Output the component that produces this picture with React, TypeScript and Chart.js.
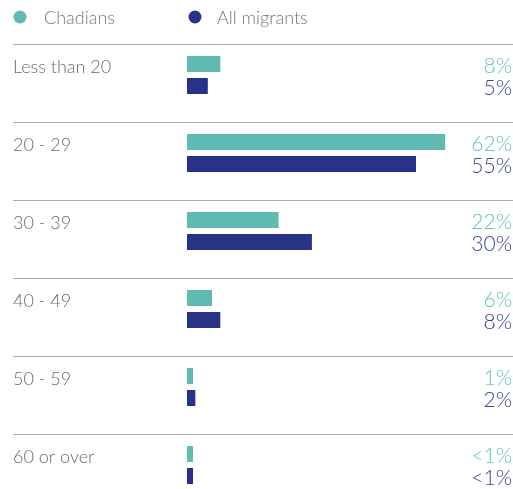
import React, { useEffect, useRef } from "react";
import { Chart, registerables } from "chart.js";

Chart.register(...registerables);

const categories = ["Less than 20", "20 - 29", "30 - 39", "40 - 49", "50 - 59", "60 or over"];
const seriesNames = ["Chadians", "All migrants"];
const chadians = [8, 62, 22, 6, 1, 0.5];
const migrants = [5, 55, 30, 8, 2, 0.5];
const chadiansLabels = ["8%", "62%", "22%", "6%", "1%", "<1%"];
const migrantsLabels = ["5%", "55%", "30%", "8%", "2%", "<1%"];

const TEAL = "#5fbab1";
const NAVY = "#283286";
const TEAL_TEXT = "#6cc4b9";
const NAVY_TEXT = "#3f4599";
const FONT = "Lato, 'Open Sans', sans-serif";

const AREA_TOP = 36;
const BAND = 78;

const overlayPlugin = {
  id: "overlay",
  afterLayout(chart: any) {
    const y = chart.scales.y;
    const h = BAND * categories.length;
    y.top = AREA_TOP;
    y.bottom = AREA_TOP + h;
    y.height = h;
    chart.chartArea.top = AREA_TOP;
    chart.chartArea.bottom = AREA_TOP + h;
    chart.chartArea.height = h;
    y.configure();
  },
  beforeDatasetsDraw(chart: any) {
    const ctx = chart.ctx;
    const y = chart.scales.y;
    ctx.save();
    ctx.strokeStyle = "#ababab";
    ctx.lineWidth = 1.2;
    categories.forEach((_, i) => {
      const py = Math.round(y.getPixelForValue(i) - 31) + 0.5;
      ctx.beginPath();
      ctx.moveTo(13, py);
      ctx.lineTo(chart.width, py);
      ctx.stroke();
    });
    ctx.restore();
  },
  afterDatasetsDraw(chart: any) {
    const ctx = chart.ctx;
    ctx.save();
    ctx.font = `300 21px ${FONT}`;
    ctx.textAlign = "right";
    ctx.textBaseline = "alphabetic";
    const sets = [
      { labels: chadiansLabels, color: TEAL_TEXT },
      { labels: migrantsLabels, color: NAVY_TEXT },
    ];
    sets.forEach((s, di) => {
      const meta = chart.getDatasetMeta(di);
      ctx.fillStyle = s.color;
      meta.data.forEach((bar: any, i: number) => {
        ctx.fillText(s.labels[i], chart.width - 1, bar.y + 9);
      });
    });
    // legend
    ctx.textAlign = "left";
    ctx.textBaseline = "middle";
    ctx.font = `300 18px ${FONT}`;
    const items = [
      { x: 20, tx: 44, color: TEAL, name: seriesNames[0] },
      { x: 195, tx: 217, color: NAVY, name: seriesNames[1] },
    ];
    items.forEach((it) => {
      ctx.fillStyle = it.color;
      ctx.beginPath();
      ctx.arc(it.x, 17, 6.5, 0, Math.PI * 2);
      ctx.fill();
      ctx.fillStyle = "#777777";
      ctx.fillText(it.name, it.tx, 18);
    });
    ctx.restore();
  },
};

export default function App() {
  const ref = useRef<HTMLCanvasElement | null>(null);
  useEffect(() => {
    if (!ref.current) return;
    const chart = new Chart(ref.current, {
      type: "bar",
      data: {
        labels: categories,
        datasets: [
          { label: seriesNames[0], data: chadians, backgroundColor: TEAL },
          { label: seriesNames[1], data: migrants, backgroundColor: NAVY },
        ],
      },
      options: {
        indexAxis: "y",
        animation: false,
        responsive: false,
        maintainAspectRatio: false,
        layout: { padding: { left: 13, top: AREA_TOP, right: 0, bottom: 0 } },
        datasets: {
          bar: {
            categoryPercentage: 44 / 78,
            barPercentage: 16 / 22,
            minBarLength: 6,
            borderWidth: 0,
          },
        },
        plugins: { legend: { display: false }, tooltip: { enabled: false } },
        scales: {
          x: { display: false, min: 0, max: 78.3 },
          y: {
            type: "category",
            position: "left",
            grid: { display: false, drawTicks: false },
            border: { display: false },
            ticks: {
              crossAlign: "far",
              labelOffset: -8,
              padding: 0,
              autoSkip: false,
              color: "#6b6b6b",
              font: { family: FONT, size: 18, weight: "300" as any },
            },
            afterFit(scale: any) {
              scale.width = 174;
            },
          },
        },
      } as any,
      plugins: [overlayPlugin],
    });
    return () => chart.destroy();
  }, []);
  return (
    <div style={{ position: "absolute", left: 0, top: 0, width: 513, height: 489 }}>
      <canvas ref={ref} width={513} height={489} style={{ width: 513, height: 489 }} />
    </div>
  );
}
